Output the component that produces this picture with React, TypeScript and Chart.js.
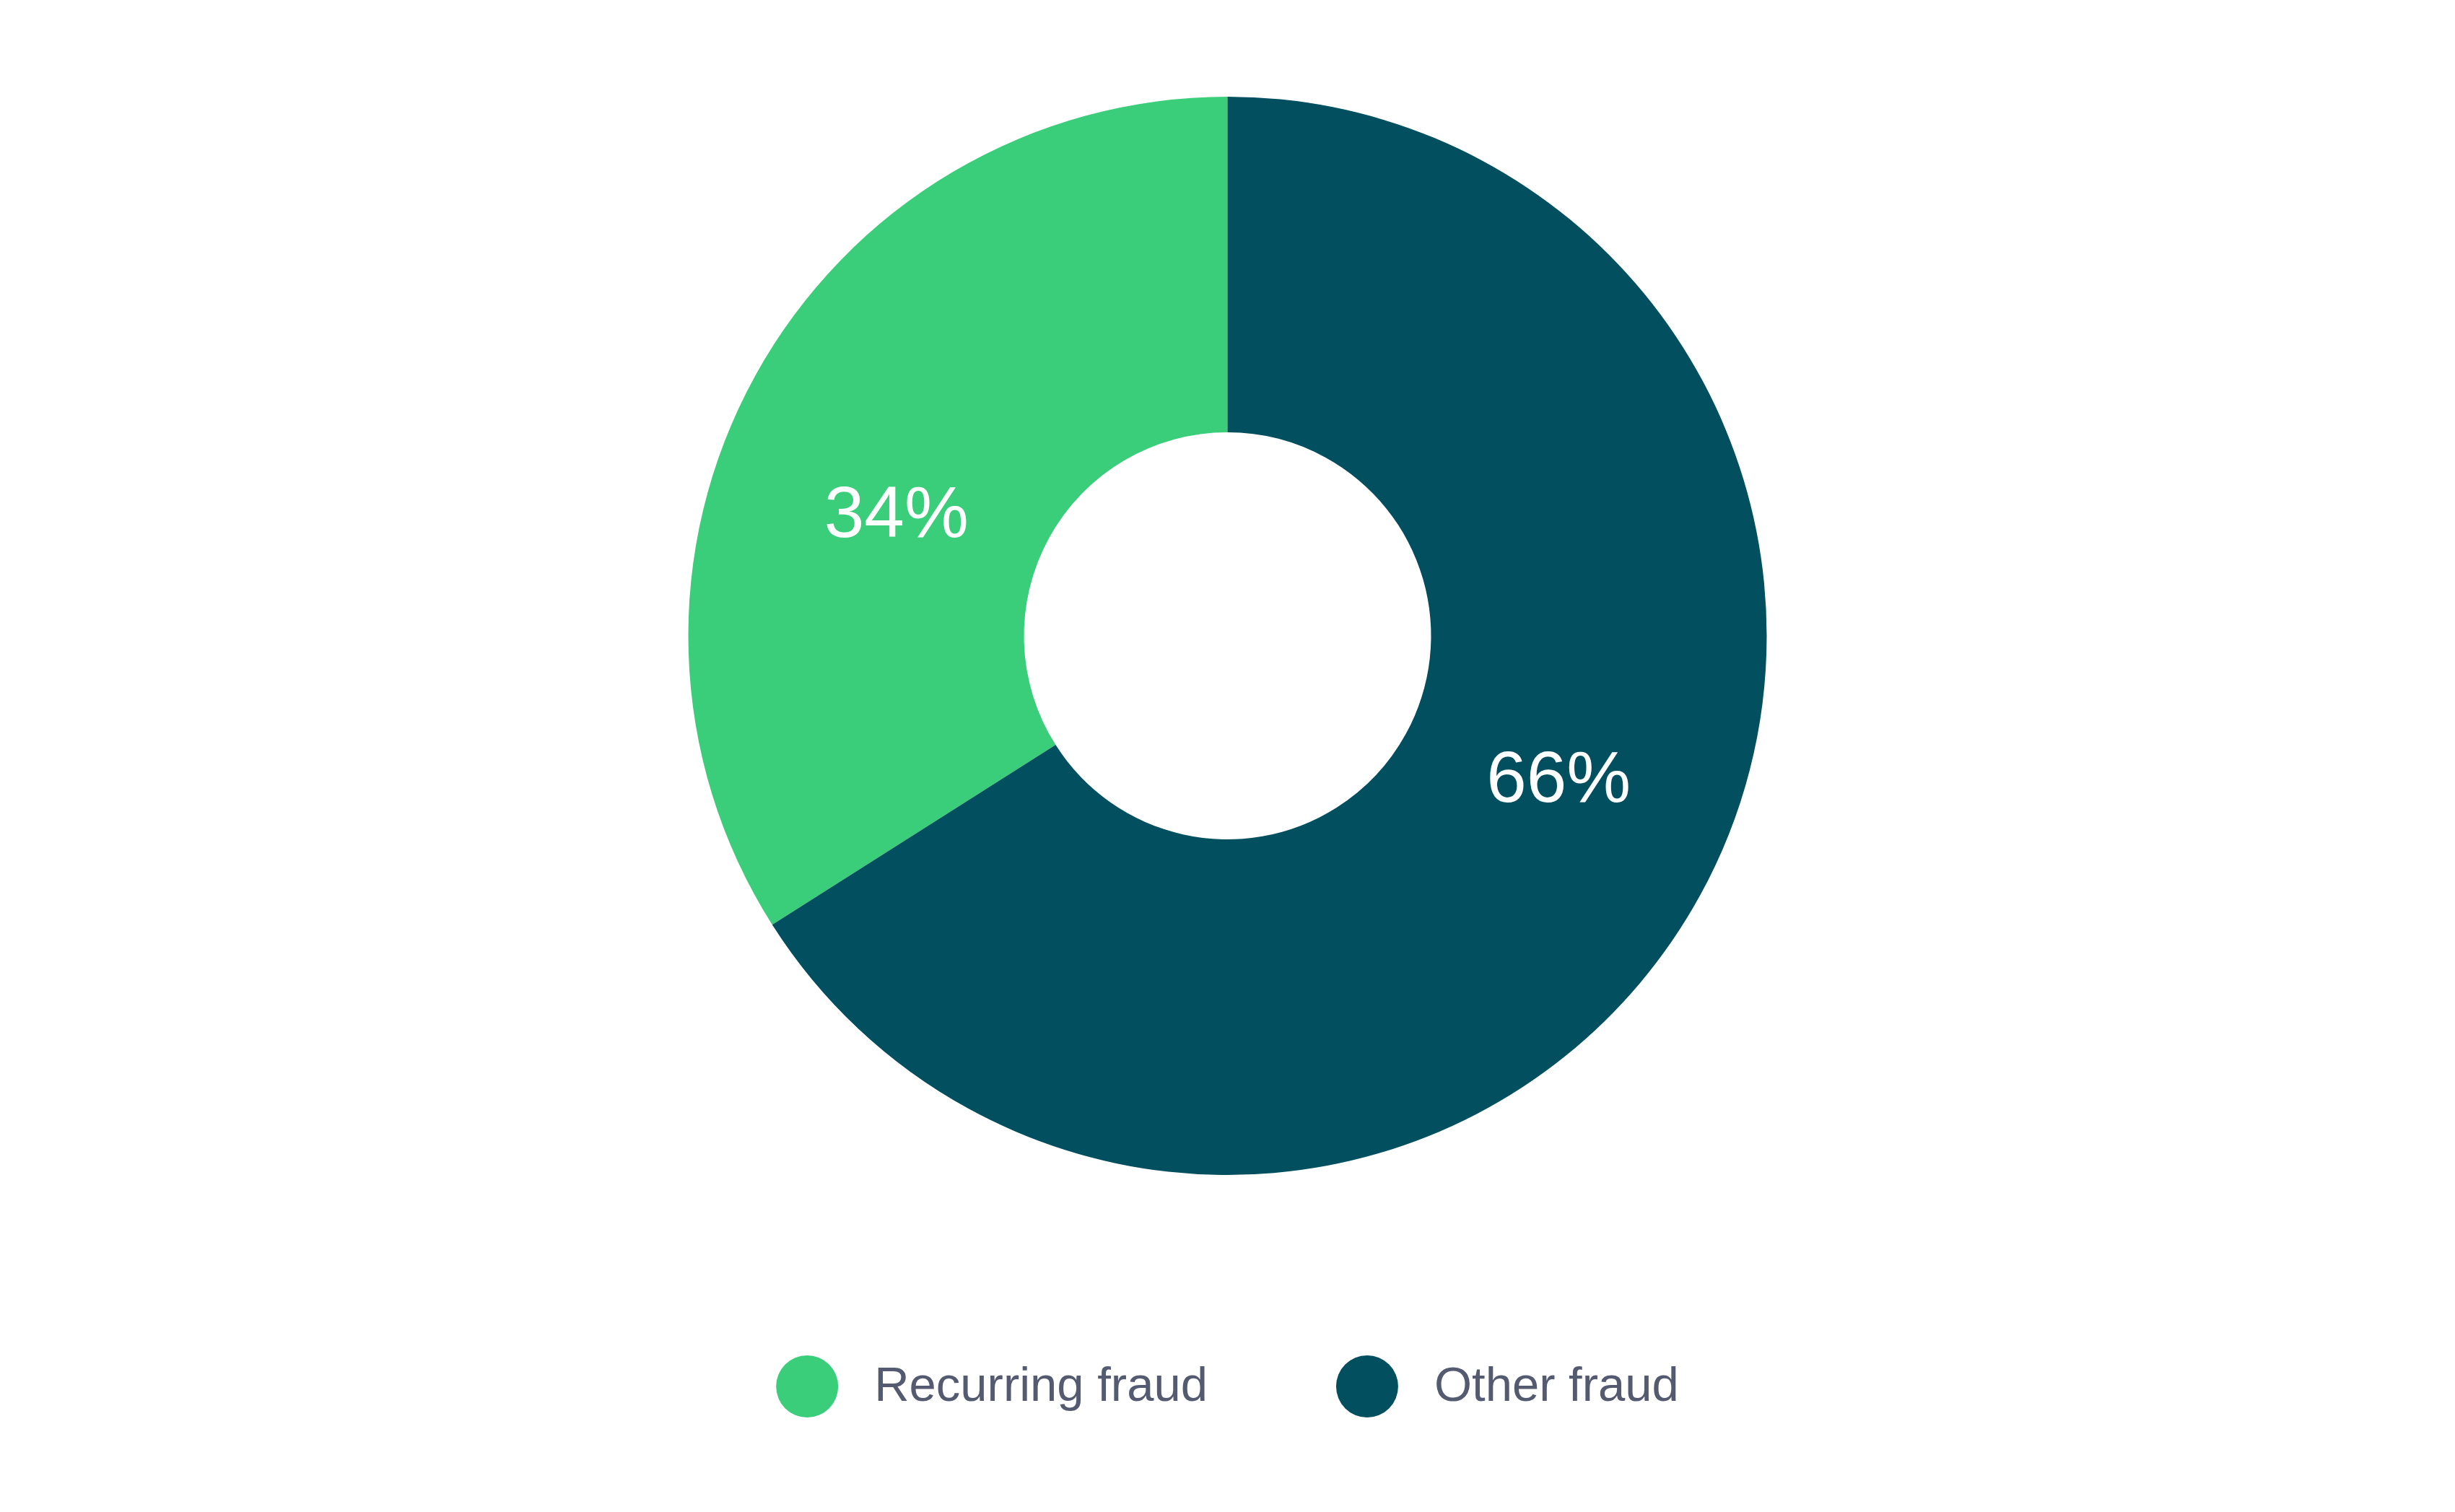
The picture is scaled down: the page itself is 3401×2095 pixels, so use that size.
import { useEffect, useRef } from 'react';
import { Chart, registerables } from 'chart.js';

Chart.register(...registerables);

const categories = ['Recurring fraud', 'Other fraud'];
const shares = [34, 66];
const sliceColors = ['#3acd7a', '#024f5f'];

const FONT = '"Liberation Sans", Arial, sans-serif';

// white percentage labels inside each slice
const sliceLabels = {
  id: 'sliceLabels',
  afterDatasetsDraw(chart: any) {
    const { ctx } = chart;
    const meta = chart.getDatasetMeta(0);
    ctx.save();
    ctx.fillStyle = '#ffffff';
    ctx.font = `100px ${FONT}`;
    ctx.textAlign = 'center';
    ctx.textBaseline = 'middle';
    meta.data.forEach((arc: any, i: number) => {
      const { x, y, startAngle, endAngle, innerRadius, outerRadius } = arc.getProps(
        ['x', 'y', 'startAngle', 'endAngle', 'innerRadius', 'outerRadius'],
        true
      );
      const mid = (startAngle + endAngle) / 2 - (7 * Math.PI) / 180;
      const r = innerRadius + (outerRadius - innerRadius) * 0.456;
      ctx.fillText(shares[i] + '%', x + Math.cos(mid) * r, y + Math.sin(mid) * r + 19);
    });
    ctx.restore();
  },
};

// legend drawn below the ring: circle marker + label
const bottomLegend = {
  id: 'bottomLegend',
  afterDraw(chart: any) {
    const { ctx, width } = chart;
    const y = 1921;
    const radius = 43;
    const textOffset = 93; // from marker centre to text start
    const itemGap = 178; // from text end to next marker edge
    ctx.save();
    ctx.font = `67px ${FONT}`;
    ctx.textBaseline = 'middle';
    const widths = categories.map((c) => ctx.measureText(c).width);
    const total =
      widths.reduce((a, w) => a + radius + textOffset + w, 0) + itemGap * (categories.length - 1);
    let x = width / 2 - total / 2;
    categories.forEach((c, i) => {
      const cx = x + radius;
      ctx.fillStyle = sliceColors[i];
      ctx.beginPath();
      ctx.arc(cx, y, radius, 0, Math.PI * 2);
      ctx.fill();
      ctx.fillStyle = '#545a70';
      ctx.fillText(c, cx + textOffset, y + 2);
      x = cx + textOffset + widths[i] + itemGap;
    });
    ctx.restore();
  },
};

export default function App() {
  const canvasRef = useRef<HTMLCanvasElement>(null);
  const chartRef = useRef<Chart | null>(null);

  useEffect(() => {
    document.body.style.margin = '0';
    if (!canvasRef.current) return;
    if (chartRef.current) chartRef.current.destroy();

    chartRef.current = new Chart(canvasRef.current, {
      type: 'doughnut',
      data: {
        labels: categories,
        datasets: [
          {
            data: shares,
            backgroundColor: sliceColors,
            borderWidth: 0,
          },
        ],
      },
      options: {
        responsive: true,
        maintainAspectRatio: false,
        animation: false,
        rotation: 237.6,
        cutout: '37.75%',
        layout: { padding: { top: 134, bottom: 467 } },
        plugins: {
          legend: { display: false },
          tooltip: { enabled: false },
        },
      },
      plugins: [sliceLabels, bottomLegend],
    });

    return () => {
      chartRef.current?.destroy();
      chartRef.current = null;
    };
  }, []);

  return (
    <div style={{ width: 3401, height: 2095, background: '#ffffff', position: 'relative' }}>
      <canvas ref={canvasRef}></canvas>
    </div>
  );
}
